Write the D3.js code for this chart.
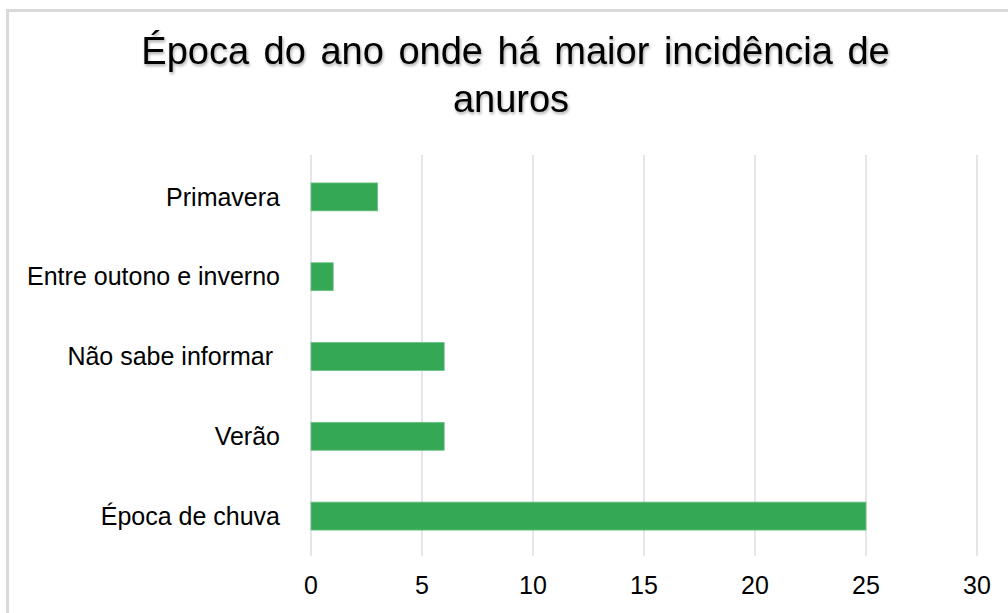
<!DOCTYPE html>
<html><head><meta charset="utf-8">
<script src="https://cdn.jsdelivr.net/npm/d3@7"></script>
<style>
html,body{margin:0;padding:0;background:#fff;}
svg{display:block;font-family:"Liberation Sans",Arial,sans-serif;}
.title{filter:drop-shadow(1px 2px 1.5px rgba(0,0,0,0.35));}
</style></head>
<body><svg id="c" width="1008" height="613"></svg>
<script>
const categories = ["Primavera","Entre outono e inverno","Não sabe informar ","Verão","Época de chuva"];
const values = [3,1,6,6,25];
const xTicks = [0,5,10,15,20,25,30];
const titleLines = ["Época do ano onde há maior incidência de","anuros"];

const svg = d3.select("#c");
// chart border
svg.append("path").attr("d","M7.5,613 V10.5 H1008").attr("fill","none").attr("stroke","#d9d9d9").attr("stroke-width",3);

const x = d3.scaleLinear().domain([0,30]).range([311,977]);
const y = d3.scaleBand().domain(categories).range([157,556]).paddingInner(0.65).paddingOuter(0.325);

// gridlines
svg.append("g").selectAll("line").data(xTicks).join("line")
  .attr("x1",d=>x(d)).attr("x2",d=>x(d)).attr("y1",155).attr("y2",556)
  .attr("stroke","#d9d9d9").attr("stroke-width",1.3);

// bars
svg.append("g").selectAll("rect").data(values).join("rect")
  .attr("x",x(0)).attr("y",(d,i)=>y(categories[i]))
  .attr("width",d=>x(d)-x(0)).attr("height",y.bandwidth())
  .attr("fill","#35a855").attr("stroke","#6cc384").attr("stroke-width",0.8);

// category labels
svg.append("g").selectAll("text").data(categories).join("text")
  .attr("x",280).attr("y",d=>y(d)+y.bandwidth()/2).attr("dy","0.35em")
  .style("white-space","pre")
  .attr("text-anchor","end").attr("font-size",25).attr("fill","#000").text(d=>d);

// x tick labels
svg.append("g").selectAll("text").data(xTicks).join("text")
  .attr("x",d=>x(d)).attr("y",585).attr("dy","0.35em")
  .attr("text-anchor","middle").attr("font-size",25).attr("fill","#000").text(d=>d);

// title
const t = svg.append("g").attr("class","title");
t.selectAll("text").data(titleLines).join("text")
  .attr("x",(d,i)=>i===0?515.5:511).attr("y",(d,i)=>64+i*48)
  .attr("word-spacing",(d,i)=>i===0?4:0)
  .attr("text-anchor","middle").attr("font-size",38).attr("fill","#000").text(d=>d);
</script></body></html>
